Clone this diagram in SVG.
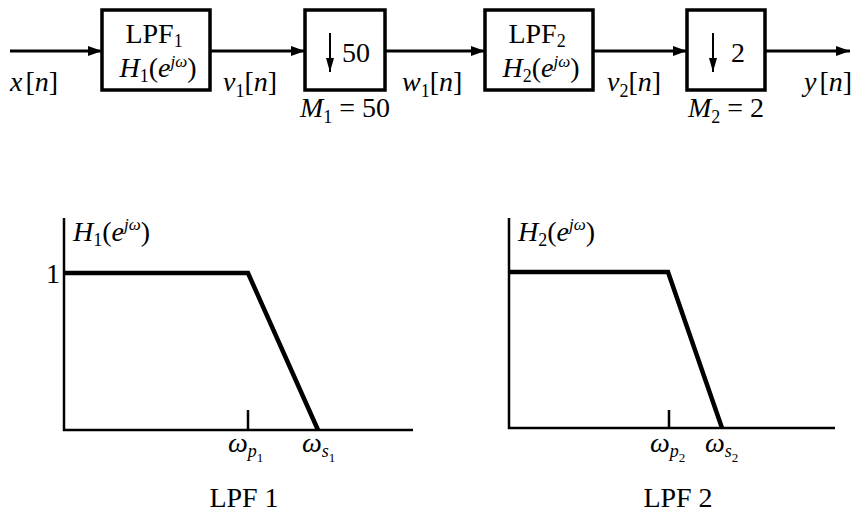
<svg xmlns="http://www.w3.org/2000/svg" width="852" height="513" viewBox="0 0 852 513">
<defs>
<marker id="ah" markerWidth="14" markerHeight="10" refX="14" refY="5" orient="auto" markerUnits="userSpaceOnUse">
<path d="M0,0 L14,5 L0,10 Z" fill="#000"/>
</marker>
<marker id="dn" markerWidth="10" markerHeight="14" refX="14" refY="4" orient="auto" markerUnits="userSpaceOnUse">
<path d="M0,0 L14,4 L0,8 Z" fill="#000"/>
</marker>
</defs>
<style>
text{font-family:"Liberation Serif","Times New Roman",serif;fill:#000}
.t{font-size:28px}
.i{font-style:italic}
.u{font-style:normal}
.sub{font-size:18px;font-style:normal}
.sub.i{font-style:italic}
.sup{font-size:17px;font-style:italic}
.ss{font-size:13px;font-style:normal}
.box{fill:#fff;stroke:#000;stroke-width:3.5}
.wire{stroke:#000;stroke-width:3;fill:none}
.axis{stroke:#000;stroke-width:2.5;fill:none}
.resp{stroke:#000;stroke-width:4.5;fill:none;stroke-linejoin:miter}
</style>
<rect width="852" height="513" fill="#fff"/>

<g id="connectors">
<line class="wire" x1="10" y1="51" x2="102" y2="51" marker-end="url(#ah)"/>
<line class="wire" x1="210" y1="51" x2="305" y2="51" marker-end="url(#ah)"/>
<line class="wire" x1="385" y1="51" x2="485" y2="51" marker-end="url(#ah)"/>
<line class="wire" x1="593" y1="51" x2="687" y2="51" marker-end="url(#ah)"/>
<line class="wire" x1="765" y1="51" x2="850" y2="51" marker-end="url(#ah)"/>
</g>

<g id="signals">
<text class="t i" x="10" y="91">x<tspan class="u" dx="3">[</tspan>n<tspan class="u">]</tspan></text>
<text class="t i" x="223" y="91">v<tspan class="sub" dy="6">1</tspan><tspan class="u" dy="-6">[</tspan>n<tspan class="u">]</tspan></text>
<text class="t i" x="402" y="91">w<tspan class="sub" dy="6">1</tspan><tspan class="u" dy="-6">[</tspan>n<tspan class="u">]</tspan></text>
<text class="t i" x="607" y="91">v<tspan class="sub" dy="6">2</tspan><tspan class="u" dy="-6">[</tspan>n<tspan class="u">]</tspan></text>
<text class="t i" x="804" y="91">y<tspan class="u" dx="3">[</tspan>n<tspan class="u">]</tspan></text>
</g>

<g id="lpf1">
<rect class="box" x="102" y="10" width="108" height="80"/>
<text class="t" x="154" y="43" text-anchor="middle">LPF<tspan class="sub" dy="4" font-size="17px">1</tspan></text>
<text class="t" x="158" y="77" text-anchor="middle"><tspan class="i">H</tspan><tspan class="sub" dy="5">1</tspan><tspan dy="-5">(</tspan><tspan class="i">e</tspan><tspan class="sup" dy="-10">jω</tspan><tspan dy="10">)</tspan></text>
</g>

<g id="down50">
<rect class="box" x="305" y="10" width="80" height="80"/>
<line x1="330" y1="33" x2="330" y2="72" stroke="#000" stroke-width="2" marker-end="url(#dn)"/>
<text class="t" x="342" y="62">50</text>
<text class="t" x="345" y="117" text-anchor="middle"><tspan class="i">M</tspan><tspan class="sub" dy="6">1</tspan><tspan dy="-6"> = 50</tspan></text>
</g>

<g id="lpf2">
<rect class="box" x="485" y="10" width="108" height="80"/>
<text class="t" x="537" y="43" text-anchor="middle">LPF<tspan class="sub" dy="4" font-size="17px">2</tspan></text>
<text class="t" x="541" y="77" text-anchor="middle"><tspan class="i">H</tspan><tspan class="sub" dy="5">2</tspan><tspan dy="-5">(</tspan><tspan class="i">e</tspan><tspan class="sup" dy="-10">jω</tspan><tspan dy="10">)</tspan></text>
</g>

<g id="down2">
<rect class="box" x="687" y="10" width="78" height="80"/>
<line x1="713" y1="33" x2="713" y2="72" stroke="#000" stroke-width="2" marker-end="url(#dn)"/>
<text class="t" x="731" y="62">2</text>
<text class="t" x="726" y="117" text-anchor="middle"><tspan class="i">M</tspan><tspan class="sub" dy="6">2</tspan><tspan dy="-6"> = 2</tspan></text>
</g>

<g id="plot1">
<polyline class="axis" points="64,218 64,430 413,430"/>
<line class="axis" x1="248" y1="410" x2="248" y2="430" stroke-width="1.5"/>
<polyline class="resp" points="64,273 248,273 318,430"/>
<text class="t" x="46" y="283">1</text>
<text class="t" x="73" y="241"><tspan class="i">H</tspan><tspan class="sub" dy="5">1</tspan><tspan dy="-5">(</tspan><tspan class="i">e</tspan><tspan class="sup" dy="-11">jω</tspan><tspan dy="11">)</tspan></text>
<text class="t i" x="228" y="452">ω<tspan class="sub i" dy="5">p</tspan><tspan class="ss" dy="5">1</tspan></text>
<text class="t i" x="302" y="452">ω<tspan class="sub i" dy="5">s</tspan><tspan class="ss" dy="5">1</tspan></text>
<text class="t" x="244" y="507" text-anchor="middle">LPF 1</text>
</g>

<g id="plot2">
<polyline class="axis" points="509,218 509,428 835,428"/>
<line class="axis" x1="669" y1="410" x2="669" y2="428" stroke-width="1.5"/>
<polyline class="resp" points="509,272 668,272 722,428"/>
<text class="t" x="518" y="241"><tspan class="i">H</tspan><tspan class="sub" dy="5">2</tspan><tspan dy="-5">(</tspan><tspan class="i">e</tspan><tspan class="sup" dy="-11">jω</tspan><tspan dy="11">)</tspan></text>
<text class="t i" x="650" y="452">ω<tspan class="sub i" dy="5">p</tspan><tspan class="ss" dy="5">2</tspan></text>
<text class="t i" x="705" y="452">ω<tspan class="sub i" dy="5">s</tspan><tspan class="ss" dy="5">2</tspan></text>
<text class="t" x="678" y="507" text-anchor="middle">LPF 2</text>
</g>
</svg>
